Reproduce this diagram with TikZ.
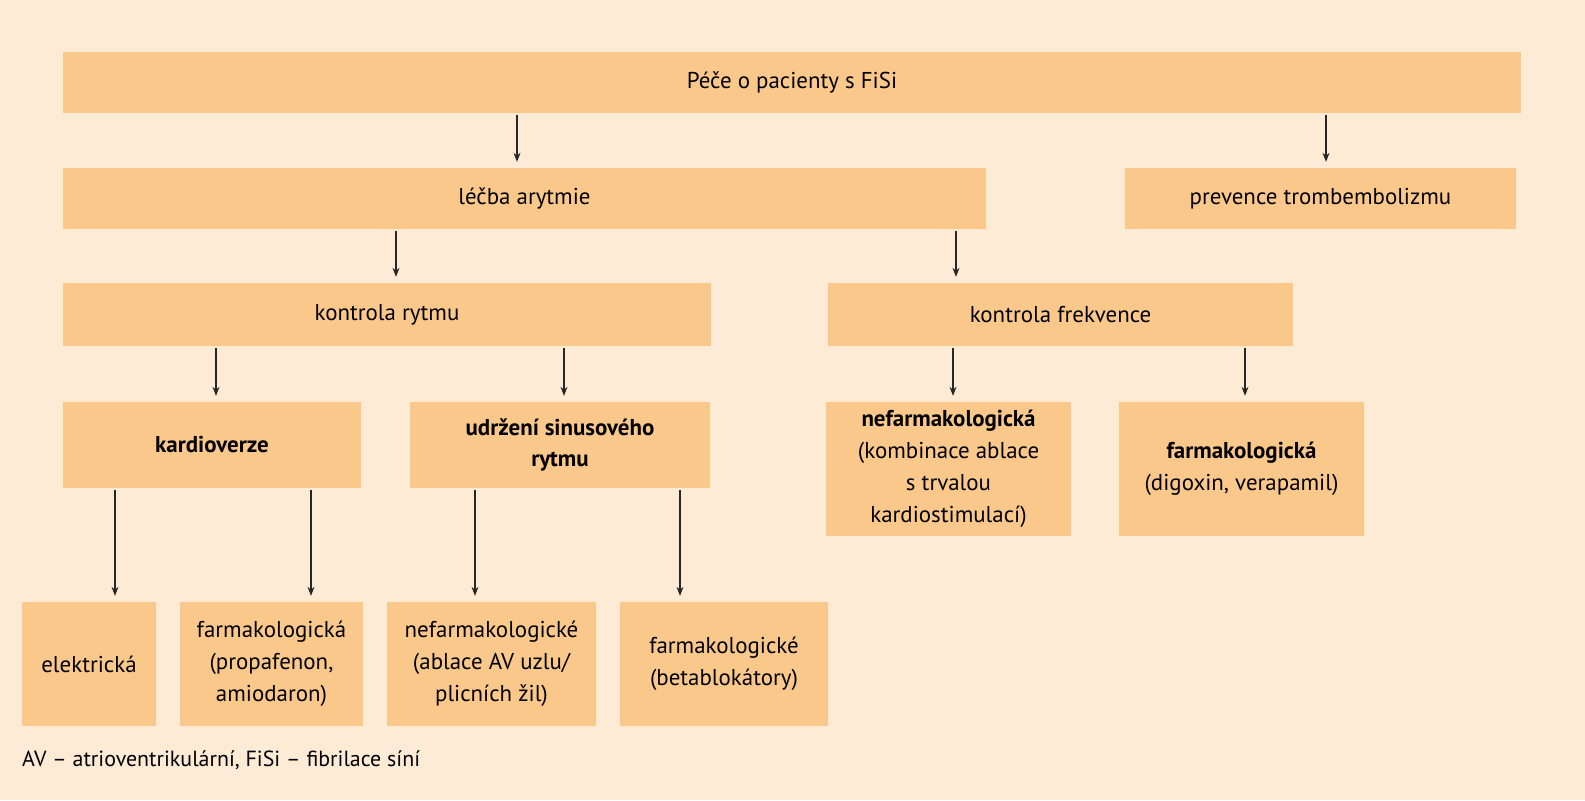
\documentclass[tikz,border=0pt]{standalone}
\usepackage{fontspec}
\setmainfont{PT Sans}
\usetikzlibrary{arrows.meta}
\definecolor{bg}{HTML}{FDEBD6}
\definecolor{bx}{HTML}{FBC88C}
\begin{document}
\begin{tikzpicture}[x=1bp,y=-1bp,
 box/.style={fill=bx,draw=none,inner sep=0pt,align=center,font=\fontsize{23}{32}\selectfont},
 arr/.style={-{Stealth[length=9pt,width=7pt]},line width=1.1pt,black!85}]
\fill[bg] (0,0) rectangle (1585,800);
\useasboundingbox (0,0) rectangle (1585,800);
\newcommand{\bx}[6]{\node[box,minimum width=#4bp-#2bp,minimum height=#5bp-#3bp] (#1) at ({(#2+#4)/2},{(#3+#5)/2}) {#6};}
\bx{top}{63}{52}{1521}{113}{Péče o pacienty s FiSi}
\bx{lec}{63}{168}{986}{229}{léčba arytmie}
\bx{pre}{1125}{168}{1516}{229}{prevence trombembolizmu}
\bx{kr}{63}{283}{711}{346}{kontrola rytmu}
\bx{kf}{828}{283}{1293}{346}{kontrola frekvence}
\bx{kv}{63}{402}{361}{488}{\textbf{kardioverze}}
\bx{us}{410}{402}{710}{488}{\textbf{udržení sinusového}\\\textbf{rytmu}}
\bx{nf}{826}{402}{1071}{536}{\textbf{nefarmakologická}\\(kombinace ablace\\s trvalou\\kardiostimulací)}
\bx{fa}{1119}{402}{1364}{536}{\textbf{farmakologická}\\(digoxin, verapamil)}
\bx{el}{22}{602}{156}{726}{elektrická}
\bx{fp}{180}{602}{363}{726}{farmakologická\\(propafenon,\\amiodaron)}
\bx{na}{387}{602}{596}{726}{nefarmakologické\\(ablace AV uzlu/\\plicních žil)}
\bx{fb}{620}{602}{828}{726}{farmakologické\\(betablokátory)}
\node[anchor=west,inner sep=0pt,font=\fontsize{22}{26}\selectfont] (fn) at (22,760) {AV – atrioventrikulární, FiSi – fibrilace síní};
\newcommand{\ar}[3]{\draw[arr] ([yshift=-2bp]#1.south -| #3,0) -- ([yshift=6bp]#2.north -| #3,0);}
\ar{top}{lec}{517}
\ar{top}{pre}{1326}
\ar{lec}{kr}{396}
\ar{lec}{kf}{956}
\ar{kr}{kv}{216}
\ar{kr}{us}{564}
\ar{kf}{nf}{953}
\ar{kf}{fa}{1245}
\ar{kv}{el}{115}
\ar{kv}{fp}{311}
\ar{us}{na}{475}
\ar{us}{fb}{680}
\end{tikzpicture}
\end{document}
